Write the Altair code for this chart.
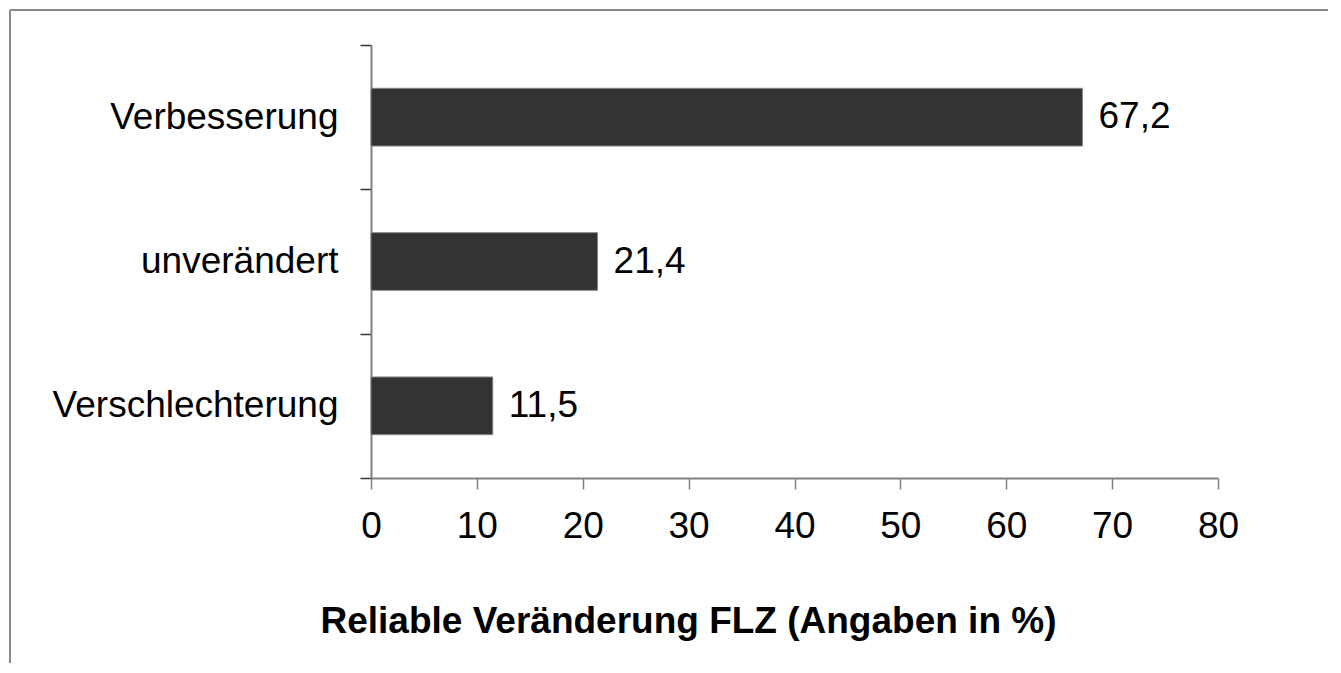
import altair as alt
import pandas as pd

categories = ["Verbesserung", "unverändert", "Verschlechterung"]
values = [67.2, 21.4, 11.5]
x_ticks = [0, 10, 20, 30, 40, 50, 60, 70, 80]
x_title = "Reliable Veränderung FLZ (Angaben in %)"

df = pd.DataFrame({"cat": categories, "val": values})

FONT = "Liberation Sans"

y_enc = alt.Y(
    "cat:N",
    sort=categories,
    scale=alt.Scale(paddingInner=0, paddingOuter=0),
    axis=alt.Axis(
        title=None,
        labelFont=FONT,
        labelFontSize=37,
        labelColor="black",
        labelPadding=22,
        tickSize=11,
        tickColor="#333333",
        tickWidth=1.5,
        tickBand="extent",
        domainColor="#808080",
        domainWidth=2,
        labelLimit=400,
    ),
)

x_enc = alt.X(
    "val:Q",
    scale=alt.Scale(domain=[0, 80], nice=False),
    axis=alt.Axis(
        values=x_ticks,
        grid=False,
        title=x_title,
        titleFont=FONT,
        titleFontSize=37,
        titleFontWeight="bold",
        titleColor="black",
        titleX=317,
        titleY=154,
        titleAlign="center",
        titleBaseline="alphabetic",
        labelFont=FONT,
        labelFontSize=37,
        labelColor="black",
        labelBaseline="alphabetic",
        labelPadding=48,
        tickSize=11,
        tickColor="#808080",
        tickWidth=1.5,
        domainColor="#808080",
        domainWidth=2,
        labelFlush=False,
    ),
)

bars = alt.Chart(df).mark_bar(
    color="#333333", stroke="#888888", strokeWidth=1, height=alt.RelativeBandSize(0.4)
).encode(x=x_enc, y=y_enc)

labels = (
    alt.Chart(df)
    .transform_calculate(lab="replace(format(datum.val, '.1f'), '.', ',')")
    .mark_text(align="left", baseline="middle", dx=16, font=FONT, fontSize=37, color="black")
    .encode(x="val:Q", y=alt.Y("cat:N", sort=categories), text="lab:N")
)

frame_data = alt.Data(values=[{"a": 1}])
top_line = alt.Chart(frame_data).mark_rule(color="#888888", strokeWidth=2).encode(
    x=alt.value(-361), x2=alt.value(1000), y=alt.value(-35)
)
left_line = alt.Chart(frame_data).mark_rule(color="#888888", strokeWidth=2).encode(
    x=alt.value(-361), y=alt.value(-35), y2=alt.value(700)
)

chart = (
    alt.layer(bars, labels, top_line, left_line)
    .properties(
        width=847,
        height=433,
        background="white",
        autosize=alt.AutoSizeParams(type="none"),
        padding={"left": 363, "top": 37, "right": 110, "bottom": 185},
    )
    .configure_view(strokeWidth=0, stroke=None)
)

chart.save("out.html", embed_options={"renderer": "svg", "actions": False})
